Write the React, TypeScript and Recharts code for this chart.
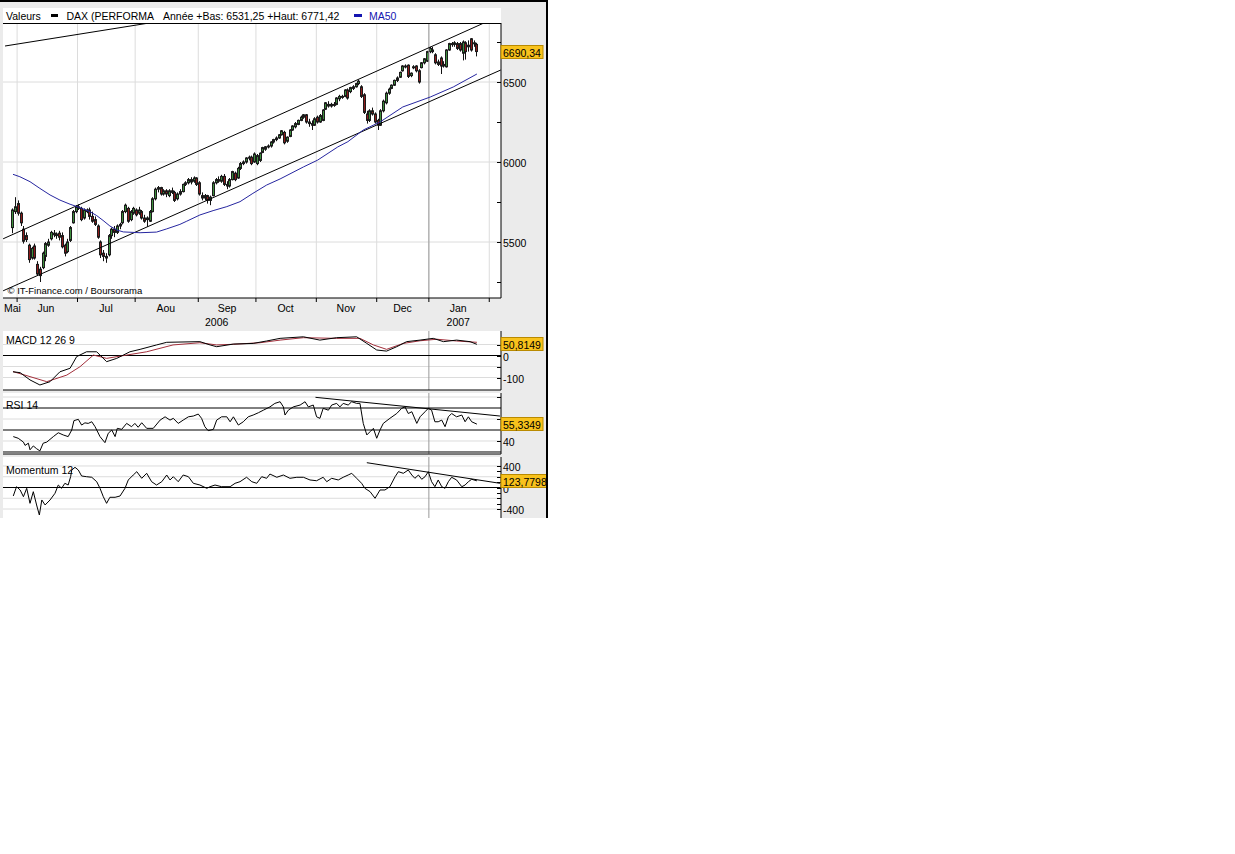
import React from 'react';
import {
  ComposedChart,
  Bar,
  Line,
  XAxis,
  YAxis,
  CartesianGrid,
  ReferenceLine,
} from 'recharts';

type Pt = [number, number];

// DAX daily sessions as [open, high, low, close]; day 0 = 30 May 2006, day 169 = last session (Jan 2007)
const daxCandles: [number, number, number, number][] = [
  [5590, 5710, 5555, 5700], [5690, 5780, 5675, 5720], [5740, 5760, 5665, 5680], [5680, 5690, 5600, 5620],
  [5580, 5600, 5490, 5505], [5540, 5560, 5500, 5515], [5480, 5490, 5370, 5390], [5400, 5470, 5390, 5460],
  [5475, 5490, 5390, 5400], [5360, 5380, 5290, 5300], [5330, 5345, 5250, 5290], [5340, 5440, 5330, 5430],
  [5410, 5500, 5380, 5490], [5480, 5520, 5470, 5500], [5520, 5570, 5510, 5560], [5555, 5575, 5530, 5545],
  [5540, 5560, 5520, 5550], [5555, 5570, 5510, 5530], [5540, 5560, 5460, 5470], [5480, 5490, 5410, 5430],
  [5440, 5520, 5430, 5500], [5510, 5600, 5500, 5590], [5620, 5700, 5615, 5690], [5690, 5730, 5680, 5720],
  [5720, 5735, 5700, 5710], [5710, 5720, 5630, 5640], [5650, 5710, 5640, 5700], [5700, 5710, 5680, 5690],
  [5700, 5715, 5640, 5660], [5660, 5690, 5620, 5630], [5640, 5660, 5600, 5610], [5600, 5610, 5520, 5530],
  [5500, 5510, 5400, 5420], [5430, 5450, 5380, 5410], [5410, 5430, 5370, 5400], [5420, 5550, 5410, 5540],
  [5540, 5590, 5520, 5580], [5580, 5600, 5530, 5560], [5560, 5610, 5550, 5600], [5600, 5620, 5580, 5610],
  [5620, 5700, 5610, 5690], [5690, 5740, 5680, 5730], [5710, 5720, 5620, 5630], [5640, 5700, 5630, 5690],
  [5680, 5720, 5670, 5710], [5700, 5710, 5660, 5670], [5680, 5720, 5670, 5700], [5690, 5700, 5640, 5650],
  [5650, 5670, 5620, 5630], [5640, 5660, 5595, 5650], [5630, 5700, 5625, 5690], [5690, 5780, 5685, 5770],
  [5770, 5840, 5760, 5830], [5830, 5850, 5810, 5840], [5840, 5845, 5790, 5800], [5800, 5830, 5790, 5820],
  [5820, 5830, 5780, 5800], [5790, 5830, 5780, 5820], [5820, 5840, 5800, 5810], [5810, 5820, 5750, 5760],
  [5770, 5810, 5760, 5800], [5800, 5830, 5790, 5815], [5815, 5865, 5810, 5860], [5860, 5880, 5850, 5870],
  [5870, 5900, 5860, 5890], [5890, 5905, 5860, 5875], [5880, 5910, 5870, 5900], [5900, 5905, 5850, 5860],
  [5870, 5880, 5790, 5800], [5790, 5810, 5760, 5775], [5775, 5800, 5760, 5790], [5790, 5795, 5740, 5760],
  [5760, 5790, 5730, 5780], [5790, 5880, 5785, 5870], [5870, 5900, 5860, 5890], [5890, 5910, 5870, 5880],
  [5880, 5920, 5870, 5910], [5910, 5925, 5850, 5860], [5860, 5880, 5830, 5850], [5850, 5900, 5840, 5890],
  [5890, 5945, 5885, 5940], [5930, 5940, 5880, 5890], [5900, 5970, 5895, 5960], [5960, 6000, 5950, 5990],
  [5990, 6010, 5980, 6000], [6000, 6030, 5990, 6025], [6025, 6040, 6010, 6030], [6030, 6040, 5980, 5990],
  [6000, 6060, 5995, 6050], [5990, 6050, 5980, 6040], [6010, 6060, 6000, 6055], [6060, 6095, 6055, 6090],
  [6080, 6100, 6070, 6095], [6095, 6110, 6085, 6100], [6100, 6130, 6090, 6125], [6125, 6145, 6115, 6140],
  [6140, 6160, 6130, 6150], [6150, 6175, 6145, 6170], [6170, 6200, 6165, 6195], [6185, 6195, 6110, 6120],
  [6130, 6160, 6120, 6155], [6160, 6205, 6155, 6200], [6200, 6230, 6195, 6225], [6220, 6250, 6210, 6240],
  [6235, 6265, 6230, 6260], [6260, 6290, 6255, 6280], [6280, 6300, 6270, 6295], [6295, 6300, 6240, 6250],
  [6250, 6270, 6220, 6240], [6240, 6260, 6200, 6230], [6230, 6280, 6225, 6270], [6280, 6290, 6240, 6250],
  [6250, 6300, 6245, 6290], [6260, 6330, 6255, 6325], [6330, 6375, 6325, 6370], [6360, 6380, 6340, 6350],
  [6350, 6370, 6340, 6360], [6360, 6375, 6345, 6355], [6360, 6405, 6355, 6400], [6395, 6420, 6380, 6410],
  [6410, 6420, 6395, 6405], [6410, 6455, 6405, 6450], [6450, 6460, 6390, 6400], [6440, 6470, 6430, 6465],
  [6460, 6480, 6450, 6470], [6470, 6495, 6465, 6490], [6490, 6515, 6480, 6505], [6470, 6480, 6400, 6410],
  [6420, 6430, 6300, 6310], [6300, 6320, 6240, 6260], [6260, 6330, 6250, 6320], [6320, 6340, 6290, 6300],
  [6300, 6310, 6240, 6250], [6260, 6270, 6200, 6230], [6230, 6330, 6225, 6320], [6320, 6390, 6310, 6380],
  [6370, 6440, 6360, 6430], [6430, 6465, 6420, 6455], [6460, 6485, 6455, 6480], [6480, 6515, 6475, 6510],
  [6510, 6535, 6500, 6525], [6530, 6565, 6525, 6560], [6570, 6605, 6565, 6600], [6595, 6610, 6585, 6600],
  [6605, 6610, 6525, 6535], [6540, 6560, 6530, 6555], [6590, 6605, 6580, 6595], [6600, 6605, 6560, 6570],
  [6570, 6580, 6490, 6500], [6590, 6625, 6585, 6620], [6620, 6650, 6610, 6645], [6630, 6695, 6625, 6690],
  [6690, 6720, 6680, 6710], [6700, 6720, 6680, 6690], [6670, 6680, 6610, 6620], [6625, 6640, 6600, 6610],
  [6650, 6660, 6550, 6600], [6610, 6630, 6590, 6600], [6595, 6705, 6590, 6700], [6700, 6745, 6695, 6740],
  [6740, 6750, 6720, 6735], [6735, 6755, 6720, 6745], [6740, 6750, 6700, 6710], [6740, 6750, 6690, 6700],
  [6680, 6760, 6635, 6750], [6745, 6755, 6640, 6690], [6730, 6760, 6690, 6720], [6770, 6775, 6690, 6700],
  [6740, 6760, 6720, 6745], [6735, 6745, 6660, 6690.34],
];

// [day, value] readings of the indicator curves
const ma50: Pt[] = [
  [0, 5923], [2.5, 5908], [6.2, 5877], [9.8, 5835], [13.5, 5794], [17.1, 5762], [20.8, 5736], [24.4, 5715],
  [28, 5690], [30.5, 5665], [32.8, 5635], [35.3, 5600], [37.8, 5575], [40.2, 5563], [46.3, 5558], [52.3, 5562],
  [56, 5582], [60.8, 5610], [63.3, 5630], [68.1, 5669], [72.9, 5696], [77.9, 5721], [82.7, 5752], [87.4, 5804],
  [92.4, 5856], [97.3, 5894], [105.8, 5969], [111, 6012], [118.3, 6094], [122, 6127], [127.6, 6200],
  [133.7, 6250], [142, 6344], [152, 6406], [160.4, 6469], [169, 6550],
];

const macd: Pt[] = [
  [0, -74], [2.6, -78], [6.2, -111], [9.8, -134], [13.5, -119], [17.1, -74], [20.8, -58], [23.2, -5],
  [26.8, 17], [30.5, 17], [34.1, -28], [37.8, -13], [42.6, 17], [46.3, 28], [52.3, 48], [56, 60], [68.1, 63],
  [71.8, 48], [74.2, 40], [80.3, 52], [87.5, 55], [92.4, 66], [97.3, 78], [105.8, 85], [111.8, 70], [117.9, 81],
  [125.2, 85], [128.9, 55], [132.5, 25], [136.1, 20], [139.8, 40], [143.4, 63], [148.3, 70], [153.1, 78],
  [156.8, 63], [161.6, 70], [166.5, 63], [169, 50.8149],
];

const macdSignal: Pt[] = [
  [0, -73], [6.2, -96], [12.3, -119], [19.6, -89], [24.4, -51], [29.3, 2], [34.1, -13], [41.4, 2], [48.7, 17],
  [58.3, 48], [68.1, 58], [74.2, 48], [80.1, 51], [90, 58], [97.3, 70], [105.8, 81], [117.9, 78], [126.4, 78],
  [131.3, 48], [136.1, 28], [142.2, 55], [148.3, 67], [154.4, 74], [161.6, 66], [169, 60],
];

const rsi14: Pt[] = [
  [0.1, 44], [1.9, 42.5], [3.8, 39], [4.4, 36], [5.6, 38], [6.2, 32], [7.4, 35.5], [8.6, 33], [9.8, 31], [11, 38],
  [12.3, 39], [14.7, 44], [16.5, 47.5], [18.3, 45.5], [20.1, 44], [21.4, 50], [22.2, 58.5], [23.8, 59.7], [25, 54.5],
  [26.2, 56.5], [27.4, 56], [28.7, 57.5], [29.9, 53], [31.7, 44], [33.5, 38.5], [34.7, 47], [36, 50], [37.2, 44],
  [38, 51.5], [39.6, 50.6], [41.4, 56], [43.2, 53], [44.4, 56], [45.6, 52.5], [46.9, 56.6], [48.7, 51.5],
  [51.1, 51.5], [53.6, 59], [55.4, 62], [57.2, 59], [58.4, 60.6], [60.2, 56], [62, 59], [63.9, 62], [65.7, 62.7],
  [67.5, 64.5], [68.7, 60.6], [69.9, 53], [71.1, 49.4], [73, 50.6], [74.2, 59], [76, 62], [77.9, 62], [79.1, 57.5],
  [80.3, 62], [82.1, 54.5], [83.9, 57.5], [85.7, 62], [87.5, 63.6], [89.4, 65.7], [91.2, 68], [93.6, 71],
  [95.4, 74.2], [97.3, 75.7], [98.5, 71], [99.1, 63.6], [100.3, 68], [102.1, 71], [104.6, 72.7], [106.4, 75.7],
  [107.6, 71], [109.4, 72.7], [110.6, 62], [111.8, 60.6], [113, 69.7], [114.9, 68], [116.1, 72.7], [117.9, 74.2],
  [119.1, 71], [120.3, 74.2], [122.1, 72.7], [123.4, 75.7], [125.2, 74.2], [126.4, 74.2], [127.6, 56],
  [128.9, 45.5], [130.1, 48.5], [131.3, 51.5], [132.5, 42.5], [133.7, 50], [134.9, 56], [137.3, 60.6],
  [139.8, 65], [141.6, 69.7], [142.8, 71], [144, 65], [145.3, 66.6], [147.1, 56], [148.3, 62], [150.1, 66.6],
  [151.3, 69.7], [152.5, 68], [153.7, 57.5], [154.9, 57.5], [156.2, 59], [157.4, 53], [158.6, 62], [159.8, 65],
  [161.6, 62], [163.5, 63.6], [164.7, 57.5], [165.9, 62], [167.1, 57.5], [169, 55.3349],
];

const momentum12: Pt[] = [
  [0.1, -158], [1.3, 15], [2.6, -46], [3.8, -171], [5, -15], [6.2, -294], [7.4, -78], [8.6, -325], [9.6, -511],
  [10.5, -232], [11.7, -325], [13.5, -232], [15.3, -108], [16.5, 46], [17.7, -15], [18.9, 78], [20.1, 46],
  [21, 201], [21.4, 325], [22.6, 375], [23.8, 325], [25, 214], [26.8, 201], [28.7, 190], [30.5, 108], [31.7, -15],
  [32.9, -171], [34.1, -294], [35.3, -182], [37.2, -182], [39, -158], [40.8, -15], [42, 140], [43.8, 232],
  [45.1, 294], [46.9, 171], [48.7, 264], [50.5, 108], [52.3, 46], [54.2, 108], [56, 232], [57.2, 140], [58.4, 201],
  [60.2, 108], [62, 232], [63.9, 201], [65.7, 78], [68.1, 46], [70.6, -15], [71.8, 15], [73.6, 46], [76, 15],
  [79.1, 15], [80.9, 78], [82.7, 108], [85.1, 190], [87, 108], [88.8, 78], [90.6, 201], [92.4, 171], [93.6, 250],
  [96.1, 190], [98.5, 232], [100.9, 171], [103.4, 190], [105.8, 190], [108.2, 140], [110.6, 126], [113, 190],
  [114.3, 108], [116.1, 171], [118.5, 140], [120.3, 190], [122.1, 232], [123.4, 264], [125.2, 171], [127, 78],
  [128.2, -15], [130.1, -78], [131.9, -201], [133.7, -46], [135.5, -46], [137.3, 15], [139.2, 201], [140.4, 294],
  [142.2, 264], [144, 325], [145.3, 232], [146.4, 171], [147.7, 232], [148.9, 153], [150.1, 201], [151.3, 294],
  [152.5, 108], [153.7, 15], [154.9, 140], [156.2, 15], [157.4, -15], [158.6, 108], [159.8, 190], [161.6, 140],
  [163.5, 15], [164.7, 46], [165.9, 108], [167.1, 153], [169, 123.7798],
];

// hand-drawn trend lines, [day, value] end points
const priceTrendLines: Pt[][] = [
  [[-3.6, 5520], [171.2, 6866]],
  [[-3.6, 5195], [177.7, 6575]],
  [[-2.9, 6725], [48.6, 6866]],
];
const rsiTrendLine: Pt[] = [[110.2, 79.7], [177.4, 62.7]];
const momentumTrendLine: Pt[] = [[128.9, 461], [177.4, 78]];

const monthStarts = [1.5, 23.5, 44.5, 67.5, 88.5, 110.5, 132.5, 151.5, 173.5];
const newYearDay = 151.5;
const monthNames = ['Mai', 'Jun', 'Jul', 'Aou', 'Sep', 'Oct', 'Nov', 'Dec', 'Jan'];
const monthCentres = [-0.2, 12, 33.9, 55.7, 78, 99.3, 121.3, 141.9, 162.2];
const yearNames = ['2006', '2007'];
const yearCentres = [74.2, 162.2];

const priceTicks = [5250, 5500, 5750, 6000, 6250, 6500, 6750];
const priceLabelled = [5500, 6000, 6500];
const macdTicks = [50, 0, -50, -100];
const macdLabelled = [0, -100];
const macdGrid = [50, -50, -100];
const rsiTicks = [80, 60, 40];
const rsiLabelled = [40];
const rsiGrid = [80, 60, 40];
const rsiLevels = [70, 50, 30];
const momentumTicks = [400, 300, 200, 100, 0, -100, -200, -300, -400];
const momentumLabelled = [400, 0, -400];
const momentumGrid = [400, 200, -200, -400];

const yearLow = 6531.25;
const yearHigh = 6771.42;

const DAY_DOMAIN: [number, number] = [-3.64, 177.78];
const FONT = "'Liberation Sans', Arial, Helvetica, sans-serif";
const GRID = '#dcdcdc';
const YEAR_LINE = '#9a9a9a';
const BADGE = '#f8c21c';
const BADGE_EDGE = '#b98a00';
const UP = '#3d8f3d';
const DOWN = '#8e1b1b';
const MA_BLUE = '#2626a0';

const fmt = (v: number, d: number) => v.toFixed(d).replace('.', ',');
const toRows = (pts: Pt[]) => pts.map(([day, value]) => ({ day, value }));

const candleRows = daxCandles.map(([open, high, low, close], day) => ({
  day, open, high, low, close, range: [low, high],
}));
const lastClose = daxCandles[daxCandles.length - 1][3];

function Candle(props: any) {
  const { x, y, width, height } = props;
  const d = props.payload ?? props;
  if (x == null || !isFinite(y) || !isFinite(height)) return null;
  const top = Math.min(y, y + height);
  const h = Math.abs(height);
  const span = d.high - d.low || 1;
  const py = (v: number) => top + ((d.high - v) / span) * h;
  const cx = Math.floor(x + width / 2) + 0.5;
  const bodyTop = py(Math.max(d.open, d.close));
  const bodyH = Math.max(1, py(Math.min(d.open, d.close)) - bodyTop);
  return (
    <g>
      <line x1={cx} x2={cx} y1={py(d.high)} y2={py(d.low)} stroke="#111" strokeWidth={1} />
      <rect x={cx - 1} y={bodyTop} width={2} height={bodyH} fill={d.close >= d.open ? UP : DOWN} stroke="#1b1b1b" strokeWidth={1} />
    </g>
  );
}

function valueTick(labelled: number[], last: number, decimals: number, badgeWidth: number) {
  return (p: any) => {
    const v = p.payload.value;
    const x = p.x;
    const y = Math.round(p.y) + 0.5;
    if (v === last) {
      return (
        <g>
          <rect x={x} y={y - 7} width={badgeWidth} height={13} fill={BADGE} stroke={BADGE_EDGE} strokeWidth={1} />
          <text x={x + 2} y={y + 4} fontSize={10.5} fontFamily={FONT} fill="#000">{fmt(v, decimals)}</text>
        </g>
      );
    }
    return (
      <g>
        <line x1={x - 4} x2={x} y1={y} y2={y} stroke="#000" strokeWidth={1} />
        {labelled.includes(v) ? (
          <text x={x + 2} y={y + 4} fontSize={10.5} fontFamily={FONT} fill="#000">{v}</text>
        ) : null}
      </g>
    );
  };
}

const BoundaryTick = (p: any) => <line x1={p.x} x2={p.x} y1={p.y} y2={p.y + 4} stroke="#000" strokeWidth={1} />;

const MonthTick = (p: any) => (
  <text x={p.x} y={p.y + 13} textAnchor="middle" fontSize={10.5} fontFamily={FONT} fill="#000">
    {monthNames[monthCentres.indexOf(p.payload.value)]}
  </text>
);

const YearTick = (p: any) => (
  <text x={p.x} y={p.y + 11} textAnchor="middle" fontSize={10.5} fontFamily={FONT} fill="#000">
    {yearNames[yearCentres.indexOf(p.payload.value)]}
  </text>
);

function PriceChart() {
  return (
    <ComposedChart width={548} height={330} data={candleRows} margin={{ top: 23, right: 0, bottom: 0, left: 3 }}>
      <CartesianGrid xAxisId="b" yAxisId="p" stroke={GRID} fill="#fff" horizontalValues={priceLabelled} verticalValues={monthStarts} />
      <XAxis xAxisId="b" type="number" dataKey="day" domain={DAY_DOMAIN} allowDataOverflow ticks={monthStarts} interval={0}
        height={1} tickSize={0} tickMargin={0} tickLine={false} axisLine={{ stroke: '#000' }} tick={BoundaryTick} />
      <XAxis xAxisId="m" type="number" dataKey="day" domain={DAY_DOMAIN} allowDataOverflow ticks={monthCentres} interval={0}
        height={16} tickSize={0} tickMargin={0} tickLine={false} axisLine={false} tick={MonthTick} />
      <XAxis xAxisId="y" type="number" dataKey="day" domain={DAY_DOMAIN} allowDataOverflow ticks={yearCentres} interval={0}
        height={15} tickSize={0} tickMargin={0} tickLine={false} axisLine={false} tick={YearTick} />
      <YAxis yAxisId="p" orientation="right" width={47} domain={[5150, 6868.75]} allowDataOverflow
        ticks={[...priceTicks, lastClose]} interval={0} tickSize={0} tickMargin={0} tickLine={false}
        axisLine={{ stroke: '#000' }} tick={valueTick(priceLabelled, lastClose, 2, 42)} />
      <ReferenceLine xAxisId="b" yAxisId="p" x={newYearDay} stroke={YEAR_LINE} />
      {priceTrendLines.map((seg, i) => (
        <ReferenceLine key={i} xAxisId="b" yAxisId="p" ifOverflow="hidden" stroke="#000" strokeWidth={1}
          segment={seg.map(([day, v]) => ({ x: day, y: v }))} />
      ))}
      <Line xAxisId="b" yAxisId="p" data={toRows(ma50)} dataKey="value" type="linear" stroke={MA_BLUE} strokeWidth={1}
        dot={false} activeDot={false} isAnimationActive={false} />
      <Bar xAxisId="b" yAxisId="p" dataKey="range" barSize={3} shape={Candle} isAnimationActive={false} />
    </ComposedChart>
  );
}

type Series = { points: Pt[]; color: string };

function Panel(props: {
  height: number; domain: [number, number]; ticks: number[]; labelled: number[]; grid: number[];
  last: number; badgeWidth: number; levels: number[]; series: Series[]; trend?: Pt[]; border: boolean;
}) {
  const { height, domain, ticks, labelled, grid, last, badgeWidth, levels, series, trend, border } = props;
  return (
    <ComposedChart width={548} height={height} margin={{ top: 0, right: 0, bottom: 0, left: 3 }}>
      <CartesianGrid xAxisId="b" yAxisId="v" stroke={GRID} fill="#fff" horizontalValues={grid} verticalValues={monthStarts} />
      <XAxis xAxisId="b" type="number" dataKey="day" domain={DAY_DOMAIN} allowDataOverflow ticks={monthStarts} interval={0}
        height={1} tick={false} tickLine={false} axisLine={border ? { stroke: '#000' } : false} />
      <YAxis yAxisId="v" orientation="right" width={47} domain={domain} allowDataOverflow
        ticks={[...ticks, last]} interval={0} tickSize={0} tickMargin={0} tickLine={false}
        axisLine={{ stroke: '#000' }} tick={valueTick(labelled, last, 4, badgeWidth)} />
      <ReferenceLine xAxisId="b" yAxisId="v" x={newYearDay} stroke={YEAR_LINE} />
      {levels.map((l) => (
        <ReferenceLine key={l} xAxisId="b" yAxisId="v" y={l} stroke="#000" strokeWidth={1} />
      ))}
      {trend ? (
        <ReferenceLine xAxisId="b" yAxisId="v" ifOverflow="hidden" stroke="#000" strokeWidth={1}
          segment={trend.map(([day, v]) => ({ x: day, y: v }))} />
      ) : null}
      {series.map((s, i) => (
        <Line key={i} xAxisId="b" yAxisId="v" data={toRows(s.points)} dataKey="value" type="linear" stroke={s.color}
          strokeWidth={1} dot={false} activeDot={false} isAnimationActive={false} />
      ))}
    </ComposedChart>
  );
}

function Txt({ x, base, size = 10.5, color = '#000', children }: { x: number; base: number; size?: number; color?: string; children: React.ReactNode }) {
  return (
    <div style={{
      position: 'absolute', left: x, top: base - size * 0.8465, fontSize: size, lineHeight: 1,
      color, whiteSpace: 'nowrap', fontFamily: FONT,
    }}>
      {children}
    </div>
  );
}

export default function App() {
  const lastMacd = macd[macd.length - 1][1];
  const lastRsi = rsi14[rsi14.length - 1][1];
  const lastMom = momentum12[momentum12.length - 1][1];
  return (
    <div style={{ position: 'absolute', left: 0, top: 0, width: 548, height: 518, background: '#ebebeb', overflow: 'hidden' }}>
      <div style={{ position: 'absolute', left: 0, top: 0 }}>
        <PriceChart />
      </div>
      <div style={{ position: 'absolute', left: 0, top: 331 }}>
        <Panel height={60} domain={[-156.8, 111.4]} ticks={macdTicks} labelled={macdLabelled} grid={macdGrid}
          last={lastMacd} badgeWidth={42} levels={[0]} border
          series={[{ points: macdSignal, color: '#a3303c' }, { points: macd, color: '#000' }]} />
      </div>
      <div style={{ position: 'absolute', left: 0, top: 393 }}>
        <Panel height={62} domain={[28.18, 83.64]} ticks={rsiTicks} labelled={rsiLabelled} grid={rsiGrid}
          last={lastRsi} badgeWidth={42} levels={rsiLevels} border trend={rsiTrendLine}
          series={[{ points: rsi14, color: '#000' }]} />
      </div>
      <div style={{ position: 'absolute', left: 0, top: 457 }}>
        <Panel height={62} domain={[-567, 567]} ticks={momentumTicks} labelled={momentumLabelled} grid={momentumGrid}
          last={lastMom} badgeWidth={46} levels={[0]} border={false} trend={momentumTrendLine}
          series={[{ points: momentum12, color: '#000' }]} />
      </div>

      {/* legend band */}
      <div style={{ position: 'absolute', left: 3, top: 8, width: 498, height: 15, background: '#fff', borderBottom: '1px solid #000' }} />
      <Txt x={6} base={20}>Valeurs</Txt>
      <div style={{ position: 'absolute', left: 51, top: 14, width: 7, height: 3, background: '#000' }} />
      <Txt x={66.5} base={20}>DAX (PERFORMA</Txt>
      <Txt x={163} base={20}>{`Année +Bas: ${fmt(yearLow, 2)} +Haut: ${fmt(yearHigh, 2)}`}</Txt>
      <div style={{ position: 'absolute', left: 354, top: 14, width: 8, height: 3, background: '#1515b0' }} />
      <Txt x={369} base={20} color="#1515b0">MA50</Txt>

      <Txt x={7.5} base={294.5} size={9.5}>© IT-Finance.com / Boursorama</Txt>
      <Txt x={6} base={344}>MACD 12 26 9</Txt>
      <Txt x={6} base={408.5}>RSI 14</Txt>
      <Txt x={6} base={474}>Momentum 12</Txt>

      <div style={{ position: 'absolute', left: 0, top: 0, width: 548, height: 2, background: '#000' }} />
      <div style={{ position: 'absolute', left: 546, top: 0, width: 2, height: 518, background: '#000' }} />
    </div>
  );
}
